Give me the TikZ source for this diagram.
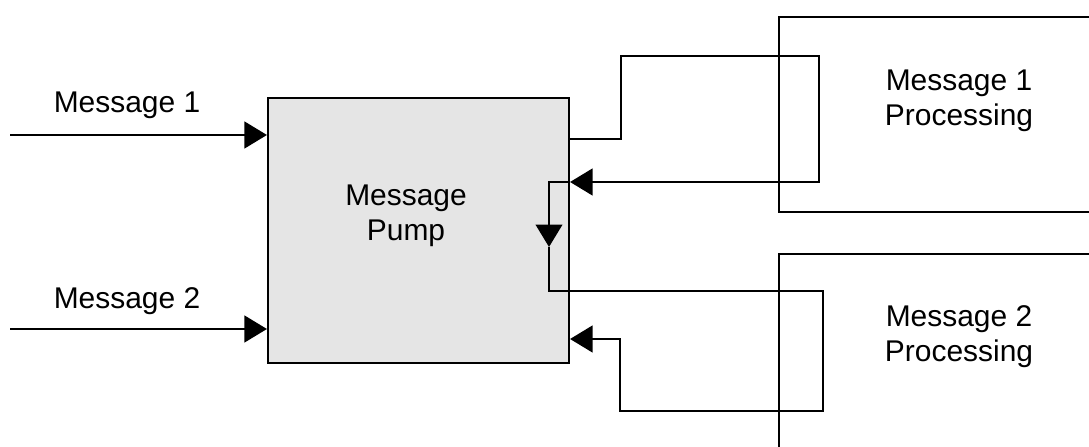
\documentclass[tikz,border=0pt]{standalone}
\usepackage{fontspec}
\setmainfont{Liberation Sans}
\usetikzlibrary{arrows.meta}

\tikzset{
  tip/.style={-{Triangle[length=16pt,width=19pt]}},
  txt/.style={font=\fontsize{21.3}{24.5}\selectfont, align=center, inner sep=0pt},
  block/.style={draw, inner sep=0pt},
}

\begin{document}
\begin{tikzpicture}[line width=1.5pt]
        \useasboundingbox (0,0) rectangle (27.225,11.175);
        \clip (0,0) rectangle (27.225,11.175);

        % boxes
        \node[block, fill=black!10, minimum width=7.525cm, minimum height=6.625cm] (pump) at (10.4625,5.4125) {};
        \node[block, minimum width=10.525cm, minimum height=4.875cm] (proc1) at (24.7375,8.3125) {};
        \node[block, minimum width=10.525cm, minimum height=6.825cm] (proc2) at (24.7375,1.4125) {};

        \node[txt] (pumptext) at (10.15,5.775) {Message\\Pump};
        \node[txt] (proc1text) at (23.975,8.66) {Message 1\\Processing};
        \node[txt] (proc2text) at (23.975,2.76) {Message 2\\Processing};

        % incoming messages
        \node[txt, anchor=base] (msg1) at (3.175,8.35) {Message 1};
        \node[txt, anchor=base] (msg2) at (3.175,3.45) {Message 2};
        \coordinate (in1) at (0.25,7.8);
        \coordinate (in2) at (0.25,2.95);
        \draw[tip] (in1) -- (in1 -| pump.west);
        \draw[tip] (in2) -- (in2 -| pump.west);

        % loop through message 1 processing
        \coordinate (out1) at (0,7.7);
        \coordinate (up1) at (15.525,9.775);
        \coordinate (back1) at (20.475,6.625);
        \coordinate (down1) at (13.725,5.0);
        \draw[tip] (out1 -| pump.east) -| (up1) -| (back1) -- (back1 -| pump.east);
        \draw[tip] (back1 -| pump.east) -| (down1);

        % loop through message 2 processing
        \coordinate (right2) at (20.575,3.9);
        \coordinate (low2) at (15.5,0.9);
        \coordinate (back2) at (0,2.7);
        \draw[tip] (down1) |- (right2) |- (low2) |- (back2 -| pump.east);
\end{tikzpicture}
\end{document}
